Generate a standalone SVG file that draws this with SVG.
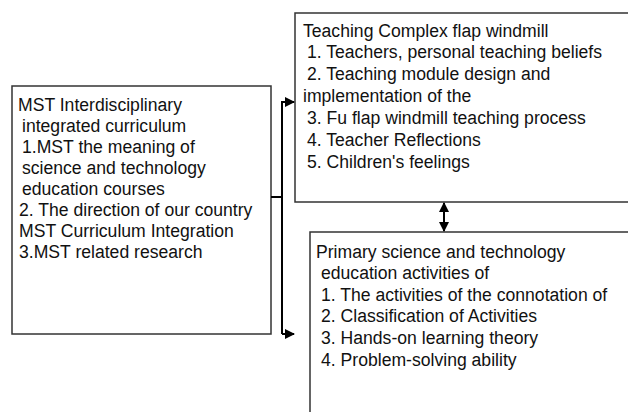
<svg xmlns="http://www.w3.org/2000/svg" width="628" height="412" viewBox="0 0 628 412">
  <defs>
    <marker id="head" viewBox="0 0 10 10" refX="9" refY="5" markerWidth="10" markerHeight="10" markerUnits="userSpaceOnUse" orient="auto-start-reverse">
      <path d="M0,0 L10,5 L0,10 z" fill="#000"/>
    </marker>
  </defs>
  <style>
    .box { fill: #fff; stroke: #333; stroke-width: 1.5; }
    .txt { font-family: "Liberation Sans", Arial, sans-serif; font-size: 17.6px; fill: #111; }
    .wire { fill: none; stroke: #000; stroke-width: 2; }
  </style>
  <rect width="628" height="412" fill="#fff"/>

  <g id="curriculum">
    <rect class="box" x="12" y="86" width="259" height="248"/>
    <text class="txt">
      <tspan x="18" y="111">MST Interdisciplinary</tspan>
      <tspan x="22" y="132">integrated curriculum</tspan>
      <tspan x="22" y="153">1.MST the meaning of</tspan>
      <tspan x="22" y="174">science and technology</tspan>
      <tspan x="22" y="195">education courses</tspan>
      <tspan x="19" y="216">2. The direction of our country</tspan>
      <tspan x="19" y="237">MST Curriculum Integration</tspan>
      <tspan x="19" y="258">3.MST related research</tspan>
    </text>
  </g>

  <g id="windmill">
    <path class="box" d="M630,13 H295 V202 H630"/>
    <text class="txt">
      <tspan x="303" y="37">Teaching Complex flap windmill</tspan>
      <tspan x="307" y="58">1. Teachers, personal teaching beliefs</tspan>
      <tspan x="307" y="80">2. Teaching module design and</tspan>
      <tspan x="303" y="102">implementation of the</tspan>
      <tspan x="307" y="124">3. Fu flap windmill teaching process</tspan>
      <tspan x="307" y="146">4. Teacher Reflections</tspan>
      <tspan x="307" y="168">5. Children's feelings</tspan>
    </text>
  </g>

  <g id="activities">
    <path class="box" d="M630,232 H310 V420"/>
    <text class="txt">
      <tspan x="316" y="258">Primary science and technology</tspan>
      <tspan x="321" y="279">education activities of</tspan>
      <tspan x="321" y="301">1. The activities of the connotation of</tspan>
      <tspan x="321" y="322">2. Classification of Activities</tspan>
      <tspan x="321" y="344">3. Hands-on learning theory</tspan>
      <tspan x="321" y="366">4. Problem-solving ability</tspan>
    </text>
  </g>

  <g id="connectors">
    <path class="wire" d="M271,197 H282"/>
    <path class="wire" d="M282,334 V102 H294" marker-end="url(#head)"/>
    <path class="wire" d="M282,334 H294" marker-end="url(#head)"/>
    <path class="wire" d="M444,203 V231" marker-start="url(#head)" marker-end="url(#head)"/>
  </g>
</svg>
